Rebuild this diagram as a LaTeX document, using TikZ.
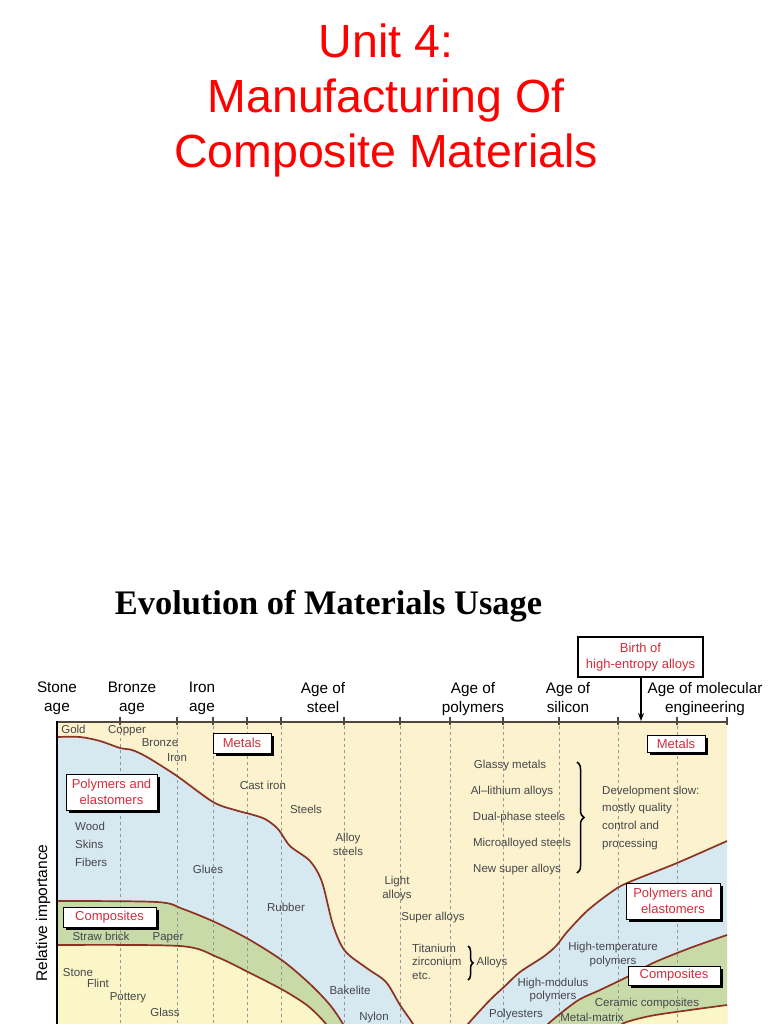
\documentclass[tikz,border=0pt]{standalone}
\usepackage{fontspec}
\setmainfont{Liberation Sans}
\newfontfamily\timesfont{Liberation Serif}
\usetikzlibrary{decorations.pathreplacing,arrows.meta,shadows}
\definecolor{titlered}{RGB}{255,0,0}
\definecolor{metalc}{RGB}{252,242,205}
\definecolor{polyc}{RGB}{214,232,240}
\definecolor{compc}{RGB}{200,218,168}
\definecolor{ceramc}{RGB}{250,246,200}
\definecolor{curvec}{RGB}{140,50,35}
\definecolor{tagred}{RGB}{210,45,60}
\definecolor{graytext}{RGB}{70,70,75}
\definecolor{dashc}{RGB}{150,150,150}
\definecolor{topline}{RGB}{80,70,60}
\begin{document}
\begin{tikzpicture}[x=1pt,y=-1pt,
  tagbox/.style={draw=black, line width=0.8pt, fill=white, text=tagred,
    font=\fontsize{13}{15.5}\selectfont, align=center, inner sep=0pt,
    drop shadow={shadow xshift=2.5pt, shadow yshift=-2.5pt, fill=black, opacity=1}},
  gtext/.style={text=graytext, font=\fontsize{11.5}{14}\selectfont, inner sep=0pt, align=center},
  agetext/.style={font=\fontsize{15.3}{19}\selectfont, align=center, inner sep=0pt, anchor=north},
  curve/.style={draw=curvec, line width=1.7pt},
  vdash/.style={draw=dashc, line width=0.7pt, dash pattern=on 3pt off 3pt},
  tick/.style={draw=topline, line width=1.4pt}
]
\useasboundingbox (0,0) rectangle (768,1024);
\clip (0,0) rectangle (768,1024);

% Titles
\node[font=\fontsize{46.5}{55}\selectfont, text=titlered, align=center, inner sep=0pt] (title) at (386,100.2)
  {Unit 4:\\Manufacturing Of\\Composite Materials};
\node[font=\timesfont\bfseries\fontsize{34.4}{40}\selectfont, anchor=base, inner sep=0pt] (evo) at (328.5,614)
  {Evolution of Materials Usage};

% curves
\def\curveA{plot[smooth,tension=0.5] coordinates {(57,737) (80,737) (100,741) (120,748) (132,750) (147,757) (177,776) (213,802) (235,810) (250,814) (265,819) (278,829) (290,846) (310,861) (322,882) (333,925) (345,951) (368,969) (386,982) (400,1005) (413,1024) (418,1036)}}
\def\curveB{plot[smooth,tension=0.5] coordinates {(460,1036) (468,1024) (490,1000) (505,986) (520,972) (543,957) (556,946) (567,932) (587,911) (610,893) (627,883) (677,863) (727,841)}}
\def\curveC{plot[smooth,tension=0.5] coordinates {(57,901) (157,902) (183,909) (217,923) (250,940) (283,961) (310,984) (330,1005) (343,1024) (348,1036)}}
\def\curveD{plot[smooth,tension=0.5] coordinates {(57,945) (180,946) (217,957) (250,973) (283,990) (308,1006) (326,1024) (332,1036)}}
\def\curveE{plot[smooth,tension=0.5] coordinates {(540,1036) (548,1024) (577,1001) (600,990) (627,977) (653,963) (690,948) (727,935)}}
\def\curveF{plot[smooth,tension=0.5] coordinates {(615,1036) (622,1024) (650,1016) (690,1010) (727,1005)}}

\fill[metalc] (57,722) rectangle (727,1036);
\fill[polyc] \curveA -- (57,1036) -- cycle;
\fill[compc] \curveC -- (57,1036) -- cycle;
\fill[ceramc] \curveD -- (57,1036) -- cycle;
\fill[polyc] \curveB -- (727,1036) -- cycle;
\fill[compc] \curveE -- (727,1036) -- cycle;
\fill[ceramc] \curveF -- (727,1036) -- cycle;

% dashed era lines
\foreach \xx in {120,177,213,247,281,344,400,450,503,559,618,677}{
  \draw[vdash] (\xx,726) -- (\xx,1030);
}
\foreach \xx in {120,177,213,247,281,344,400,450,503,559,618,677,727}{
  \draw[tick] (\xx,717) -- (\xx,725);
}

\draw[curve] \curveA;
\draw[curve] \curveB;
\draw[curve] \curveC;
\draw[curve] \curveD;
\draw[curve] \curveE;
\draw[curve] \curveF;

% axes
\draw[draw=topline, line width=2pt] (57,722) -- (727,722);
\draw[draw=black, line width=2.5pt] (57,721) -- (57,1030);

% age labels
\node[agetext] (stone) at (57,682) {Stone\\age};
\node[agetext] (bronze) at (132,682) {Bronze\\age};
\node[agetext] (iron) at (202,682) {Iron\\age};
\node[agetext] (steel) at (323,682) {Age of\\steel};
\node[agetext] (polym) at (473,682) {Age of\\polymers};
\node[agetext] (silic) at (568,682) {Age of\\silicon};
\node[agetext] (molec) at (705,682) {Age of molecular\\engineering};

% birth box and arrow
\node[draw=black, line width=1.4pt, fill=white, text=tagred, font=\fontsize{13}{16}\selectfont,
  align=center, minimum width=125pt, minimum height=40pt, inner sep=0pt] (birth) at (640.5,657)
  {Birth of\\high-entropy alloys};
\coordinate (arrowend) at (641,721);
\draw[line width=1.6pt, -{Stealth[length=8pt,width=6pt]}] (birth.south -| arrowend) -- (arrowend);

% tag boxes
\node[tagbox, minimum width=58pt, minimum height=20pt] (metalsL) at (242,743) {Metals};
\node[tagbox, minimum width=91pt, minimum height=36pt] (polyL) at (111.5,792) {Polymers and\\elastomers};
\node[tagbox, minimum width=93pt, minimum height=20pt] (compL) at (109.5,917) {Composites};
\node[tagbox, minimum width=58pt, minimum height=17pt] (metalsR) at (676,743.5) {Metals};
\node[tagbox, minimum width=94pt, minimum height=36pt] (polyR) at (673,901) {Polymers and\\elastomers};
\node[tagbox, minimum width=92pt, minimum height=19pt] (compR) at (674,975.5) {Composites};

% gray texts
\node[gtext, anchor=base] (gold) at (73.5,733.5) {Gold};
\node[gtext, anchor=base] (copper) at (127,733.5) {Copper};
\node[gtext, anchor=base] (bronzet) at (160,746.5) {Bronze};
\node[gtext, anchor=base] (iront) at (177,761.5) {Iron};
\node[gtext, anchor=base] (castiron) at (263,789.5) {Cast iron};
\node[gtext, anchor=base] (steels) at (306,813.5) {Steels};
\node[gtext, anchor=base] (glassy) at (510,768.5) {Glassy metals};
\node[gtext, anchor=base] (allith) at (512,794.5) {Al–lithium alloys};
\node[gtext, anchor=base] (dual) at (519,820.5) {Dual-phase steels};
\node[gtext, anchor=base] (micro) at (522,846.5) {Microalloyed steels};
\node[gtext, anchor=base] (newsup) at (517,872.5) {New super alloys};
\node[gtext, anchor=base west] (wood) at (75,830.5) {Wood};
\node[gtext, anchor=base west] (skins) at (75,848.5) {Skins};
\node[gtext, anchor=base west] (fibers) at (75,866.5) {Fibers};
\node[gtext, anchor=base] (glues) at (208,873.5) {Glues};
\node[gtext, anchor=base] (rubber) at (286,911.5) {Rubber};
\node[gtext, anchor=base] (superal) at (433,920.5) {Super alloys};
\node[gtext, anchor=base] (alloys) at (492,965.5) {Alloys};
\node[gtext, anchor=base] (straw) at (101,940.5) {Straw brick};
\node[gtext, anchor=base] (paper) at (168,940.5) {Paper};
\node[gtext, anchor=base] (stonet) at (78,976.5) {Stone};
\node[gtext, anchor=base] (flint) at (98,987.5) {Flint};
\node[gtext, anchor=base] (pottery) at (128,1000.5) {Pottery};
\node[gtext, anchor=base] (glass) at (165,1016.5) {Glass};
\node[gtext, anchor=base] (bakelite) at (350,994.5) {Bakelite};
\node[gtext, anchor=base] (nylon) at (374,1020.5) {Nylon};
\node[gtext, anchor=base] (polyest) at (516,1017.5) {Polyesters};
\node[gtext, anchor=base] (ceramic) at (647,1006.5) {Ceramic composites};
\node[gtext, anchor=base] (metalmat) at (592,1021.5) {Metal-matrix};
\node[gtext, anchor=north] (alloysteel) at (348,832.7) {Alloy\\steels};
\node[gtext, anchor=north] (light) at (397,875.7) {Light\\alloys};
\node[gtext, anchor=north, font=\fontsize{11.5}{14}\selectfont] (hightemp) at (613,941.7) {High-temperature\\polymers};
\node[gtext, anchor=north, font=\fontsize{11.5}{13}\selectfont] (highmod) at (553,977.7) {High-modulus\\polymers};
\node[gtext, anchor=north west, align=left, font=\fontsize{11.5}{13.5}\selectfont] (titan) at (412,943.7) {Titanium\\zirconium\\etc.};
\node[gtext, anchor=north west, align=left, font=\fontsize{11.5}{17.7}\selectfont] (devel) at (602,785.7) {Development slow:\\mostly quality\\control and\\processing};

% braces
\draw[line width=1.5pt, decorate, decoration={brace, amplitude=7pt}] (577,762) -- (577,873);
\draw[line width=1.5pt, decorate, decoration={brace, amplitude=5pt}] (468,946) -- (468,980);

% axis title
\node[rotate=90, font=\fontsize{15.5}{18}\selectfont, inner sep=0pt] (relimp) at (43,913) {Relative importance};
\end{tikzpicture}
\end{document}
